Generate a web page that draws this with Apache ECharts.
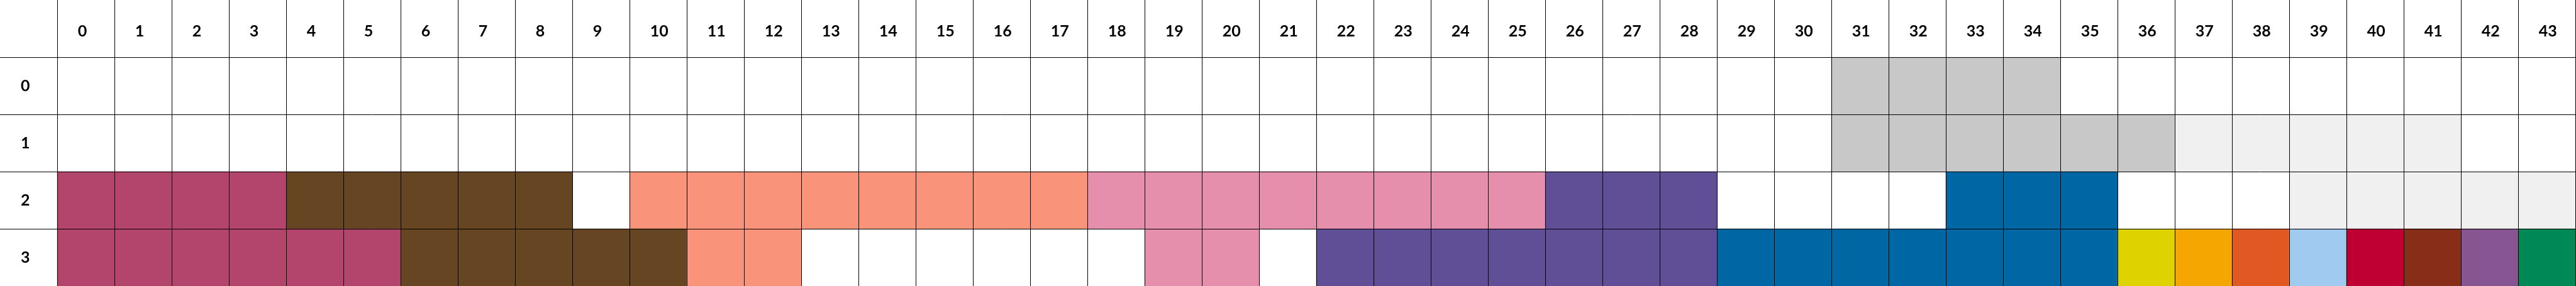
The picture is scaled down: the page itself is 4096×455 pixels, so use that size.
<!DOCTYPE html>
<html>
<head>
<meta charset="utf-8">
<script src="https://cdn.jsdelivr.net/npm/echarts@6/dist/echarts.min.js"></script>
<style>
  html, body { margin: 0; padding: 0; background: #ffffff; }
  #chart { width: 4096px; height: 455px; }
</style>
</head>
<body>
<div id="chart"></div>
<script>
// Column (x) tick labels
const colLabels = ['0','1','2','3','4','5','6','7','8','9','10','11','12','13','14','15','16','17','18','19','20','21',
  '22','23','24','25','26','27','28','29','30','31','32','33','34','35','36','37','38','39','40','41','42','43'];
// Row (y) tick labels
const rowLabels = ['0','1','2','3'];

// Colour keys for each cell of each row ('' = empty / white)
const row0 = ['','','','','','','','','','','','','','','','','','','','','','','','','','','','','','','',
  'G','G','G','G','','','','','','','','',''];
const row1 = ['','','','','','','','','','','','','','','','','','','','','','','','','','','','','','','',
  'G','G','G','G','G','G','L','L','L','L','L','',''];
const row2 = ['A','A','A','A','B','B','B','B','B','','C','C','C','C','C','C','C','C','D','D','D','D','D','D','D','D',
  'E','E','E','','','','','F','F','F','','','','L','L','L','L','L'];
const row3 = ['A','A','A','A','A','A','B','B','B','B','B','C','C','','','','','','','D','D','','E','E','E','E','E','E','E',
  'F','F','F','F','F','F','F','Y','O','R','S','X','K','P','N'];

const palette = {
  G: '#c8c8c8', L: '#f0f0f0',
  A: '#b3446c', B: '#654522', C: '#f99379', D: '#e68fac', E: '#604e97', F: '#0067a5',
  Y: '#dcd300', O: '#f6a600', R: '#e25822', S: '#a1caf1', X: '#be0032', K: '#882d17',
  P: '#875692', N: '#008856'
};

const rows = [row0, row1, row2, row3];
const cells = [];
rows.forEach((row, r) => {
  row.forEach((key, c) => {
    if (key) cells.push({ value: [c, r, 1], itemStyle: { color: palette[key] } });
  });
});

const S = 0.91;
const cell = 100 * S;
const lineCol = '#000000';
const fontFam = 'Lato, "Open Sans", sans-serif';

const chart = echarts.init(document.getElementById('chart'), null, { renderer: 'canvas' });
chart.setOption({
  animation: false,
  backgroundColor: '#ffffff',
  grid: { left: cell, top: cell, width: cell * colLabels.length, height: cell * rowLabels.length, containLabel: false },
  xAxis: {
    type: 'category',
    data: colLabels,
    position: 'top',
    z: 10,
    axisLine: { show: true, lineStyle: { color: lineCol, width: 1 } },
    axisTick: { show: true, interval: 0, length: cell, inside: false, lineStyle: { color: lineCol, width: 1 } },
    splitLine: { show: true, interval: 0, lineStyle: { color: lineCol, width: 1 } },
    axisLabel: {
      interval: 0,
      margin: 41,
      verticalAlign: 'middle',
      formatter: v => '{a|' + v + '}',
      rich: { a: { width: 25.5, align: 'left', fontSize: 25, fontFamily: fontFam, fontWeight: 'bold', color: '#000' } }
    }
  },
  yAxis: {
    type: 'category',
    data: rowLabels,
    inverse: true,
    z: 10,
    axisLine: { show: true, lineStyle: { color: lineCol, width: 1 } },
    axisTick: { show: true, interval: 0, length: cell, inside: false, lineStyle: { color: lineCol, width: 1 } },
    splitLine: { show: true, interval: 0, lineStyle: { color: lineCol, width: 1 } },
    axisLabel: {
      interval: 0,
      margin: 58,
      align: 'left',
      verticalAlign: 'middle',
      padding: [9, 0, 0, 0],
      fontSize: 25, fontFamily: fontFam, fontWeight: 'bold', color: '#000'
    }
  },
  series: [{
    type: 'heatmap',
    data: cells,
    z: 2,
    itemStyle: { borderWidth: 0 },
    emphasis: { disabled: true },
    label: { show: false }
  }]
});
</script>
</body>
</html>
